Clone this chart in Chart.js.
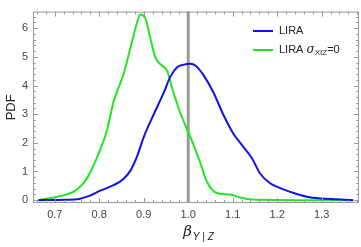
<!DOCTYPE html>
<html>
<head>
<meta charset="utf-8">
<script src="https://cdn.jsdelivr.net/npm/chart.js@4.4.0/dist/chart.umd.min.js"></script>
<style>
  html, body { margin: 0; padding: 0; background: #fff; }
  #wrap { width: 361px; height: 247px; }
</style>
</head>
<body>
<div id="wrap"><canvas id="pdf-chart"></canvas></div>
<script>
// values
const liraX = [0.663, 0.727, 0.757, 0.776, 0.802, 0.832, 0.855, 0.87, 0.885, 0.9, 0.922, 0.945, 0.96, 0.975, 0.99, 1.005, 1.016, 1.034, 1.057, 1.079, 1.102, 1.124, 1.143, 1.162, 1.184, 1.207, 1.237, 1.267, 1.297, 1.334, 1.371];
const liraY = [0, 0.01, 0.05, 0.14, 0.33, 0.52, 0.75, 1.03, 1.53, 2.2, 2.98, 3.75, 4.31, 4.64, 4.73, 4.76, 4.7, 4.37, 3.75, 2.98, 2.31, 1.86, 1.47, 0.92, 0.59, 0.42, 0.25, 0.12, 0.06, 0.03, 0];

const liraNoScatterX = [0.663, 0.697, 0.727, 0.75, 0.772, 0.802, 0.817, 0.832, 0.855, 0.87, 0.885, 0.892, 0.903, 0.915, 0.926, 0.941, 0.952, 0.967, 0.982, 1.005, 1.027, 1.042, 1.057, 1.072, 1.094, 1.117, 1.154, 1.25, 1.371];
const liraNoScatterY = [0, 0.09, 0.2, 0.37, 0.75, 1.75, 2.42, 3.42, 4.42, 5.31, 6.2, 6.48, 6.37, 5.64, 4.98, 4.7, 4.53, 3.75, 3.05, 2.2, 1.31, 0.64, 0.31, 0.22, 0.2, 0.09, 0.01, 0, 0];

const xTicks = [0.7, 0.8, 0.9, 1.0, 1.1, 1.2, 1.3];
const yTicks = [0, 1, 2, 3, 4, 5, 6];
const refValue = 1.0;

const BLUE = '#1212e8';
const GREEN = '#22e622';
const FRAME = '#999';

const toPoints = (xs, ys) => xs.map((x, i) => ({ x: x, y: ys[i] }));

// frame with inward ticks on all four sides (Mathematica style)
const framePlugin = {
    id: 'frame',
    afterDraw(chart) {
        const ctx = chart.ctx;
        const a = chart.chartArea;
        const xs = chart.scales.x;
        const ys = chart.scales.y;
        ctx.save();
        ctx.strokeStyle = FRAME;
        ctx.lineWidth = 1;
        ctx.strokeRect(a.left + 0.5, a.top + 0.5, a.right - a.left - 1, a.bottom - a.top - 1);

        const tick = (x1, y1, x2, y2) => {
            ctx.beginPath();
            ctx.moveTo(x1, y1);
            ctx.lineTo(x2, y2);
            ctx.stroke();
        };
        // x ticks
        for (let v = 0.66; v <= xs.max; v += 0.02) {
            const val = Math.round(v * 100) / 100;
            const px = Math.round(xs.getPixelForValue(val)) + 0.5;
            if (px < a.left || px > a.right) continue;
            const major = Math.abs(val * 10 - Math.round(val * 10)) < 1e-6;
            const len = major ? 5 : 3;
            tick(px, a.bottom, px, a.bottom - len);
            tick(px, a.top, px, a.top + len);
        }
        // y ticks
        for (let v = 0; v <= ys.max; v += 0.2) {
            const val = Math.round(v * 10) / 10;
            const py = Math.round(ys.getPixelForValue(val)) + 0.5;
            const major = Math.abs(val - Math.round(val)) < 1e-6;
            const len = major ? 5 : 3;
            tick(a.left, py, a.left + len, py);
            tick(a.right, py, a.right - len, py);
        }

        // axis titles
        ctx.fillStyle = '#222';
        ctx.textBaseline = 'middle';
        ctx.textAlign = 'center';
        ctx.save();
        ctx.translate(11, (a.top + a.bottom) / 2);
        ctx.rotate(-Math.PI / 2);
        ctx.font = '13px "Liberation Sans", Arial, sans-serif';
        ctx.fillText('PDF', 0, 0);
        ctx.restore();

        const cx = (a.left + a.right) / 2 + 2;
        ctx.textAlign = 'left';
        ctx.font = 'italic 15px "DejaVu Serif", serif';
        const bw = ctx.measureText('β').width;
        ctx.font = 'italic 10px "Liberation Sans", Arial, sans-serif';
        const sw = ctx.measureText('Y | Z').width;
        const startX = cx - (bw + sw) / 2;
        ctx.font = 'italic 15px "DejaVu Serif", serif';
        ctx.fillText('β', startX, 232);
        ctx.font = 'italic 10px "Liberation Sans", Arial, sans-serif';
        ctx.fillText('Y | Z', startX + bw + 1, 237);

        // legend
        const items = [
            { color: BLUE, y: 31 },
            { color: GREEN, y: 50 }
        ];
        items.forEach(it => {
            ctx.strokeStyle = it.color;
            ctx.lineWidth = 2;
            tick(253, it.y, 273, it.y);
        });
        ctx.fillStyle = '#222';
        ctx.font = '11px "Liberation Sans", Arial, sans-serif';
        ctx.fillText('LIRA', 279, 31);
        ctx.fillText('LIRA ', 279, 50);
        let tx = 279 + ctx.measureText('LIRA ').width;
        ctx.font = 'italic 12px "DejaVu Serif", serif';
        ctx.fillText('σ', tx, 50);
        tx += ctx.measureText('σ').width;
        ctx.font = '8px "Liberation Sans", Arial, sans-serif';
        ctx.fillText('XIZ', tx, 53);
        tx += ctx.measureText('XIZ').width;
        ctx.font = '11px "Liberation Sans", Arial, sans-serif';
        ctx.fillText('=0', tx, 50);
        ctx.restore();
    }
};

new Chart(document.getElementById('pdf-chart'), {
    type: 'line',
    data: {
        datasets: [
            {
                label: 'LIRA',
                data: toPoints(liraX, liraY),
                borderColor: BLUE,
                borderWidth: 2,
                pointRadius: 0,
                cubicInterpolationMode: 'monotone',
                fill: false
            },
            {
                label: 'LIRA σ=0',
                data: toPoints(liraNoScatterX, liraNoScatterY),
                borderColor: GREEN,
                borderWidth: 2,
                pointRadius: 0,
                cubicInterpolationMode: 'monotone',
                fill: false
            },
            {
                label: 'reference',
                data: [{ x: refValue, y: -0.1 }, { x: refValue, y: 6.6 }],
                borderColor: 'rgba(120,120,120,0.75)',
                borderWidth: 3,
                pointRadius: 0,
                fill: false
            }
        ]
    },
    options: {
        responsive: true,
        maintainAspectRatio: false,
        animation: false,
        layout: { padding: { top: 2, right: 2, left: 0, bottom: 0 } },
        plugins: {
            legend: { display: false },
            tooltip: { enabled: false }
        },
        scales: {
            x: {
                type: 'linear',
                min: 0.651,
                max: 1.384,
                afterBuildTicks: s => { s.ticks = xTicks.map(v => ({ value: v })); },
                afterFit: s => { s.height = 44; },
                grid: { display: false, drawTicks: false },
                border: { display: false },
                ticks: {
                    padding: 5,
                    color: '#444',
                    font: { size: 11, family: '"Liberation Sans", Arial, sans-serif' },
                    maxRotation: 0,
                    callback: v => v.toFixed(1)
                }
            },
            y: {
                min: -0.1,
                max: 6.58,
                afterBuildTicks: s => { s.ticks = yTicks.map(v => ({ value: v })); },
                afterFit: s => { s.width = 33; },
                grid: { display: false, drawTicks: false },
                border: { display: false },
                ticks: {
                    padding: 5,
                    color: '#444',
                    font: { size: 11, family: '"Liberation Sans", Arial, sans-serif' },
                    callback: v => String(v)
                }
            }
        }
    },
    plugins: [framePlugin]
});
</script>
</body>
</html>
